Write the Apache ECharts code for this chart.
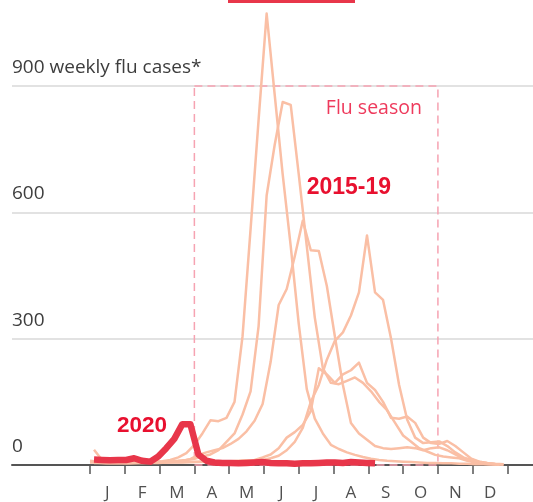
<!DOCTYPE html>
<html>
<head>
<meta charset="utf-8">
<script src="https://cdn.jsdelivr.net/npm/echarts@6/dist/echarts.min.js"></script>
<style>
  html, body { margin: 0; padding: 0; background: #fff; }
  #chart { width: 533px; height: 502px; }
</style>
</head>
<body>
<div id="chart"></div>
<script>
// month letters under the x axis
const months = ['J', 'F', 'M', 'A', 'M', 'J', 'J', 'A', 'S', 'O', 'N', 'D']

// weekly flu cases, week 1 onwards
const cases2020 = [13, 12, 11, 12, 12, 16, 10, 8, 20, 40, 62, 97, 97, 25, 10, 6, 5, 5, 4, 5, 6, 7, 5, 4, 4, 3, 4, 4, 5, 6, 6, 5, 7, 6, 5, 4]

const seasonA = [10, 8, 7, 6, 6, 6, 7, 7, 8, 9, 12, 18, 28, 48, 75, 106, 104, 112, 150, 306, 560, 820, 1072, 880, 690, 520, 335, 180, 110, 75, 48, 38, 30, 24, 19, 15, 12, 10, 9, 8, 7, 6, 5, 5, 4, 4, 3, 3, 2, 2, 1, 1]
const seasonB = [6, 6, 5, 5, 5, 5, 6, 6, 7, 8, 9, 10, 12, 15, 20, 25, 35, 55, 75, 120, 175, 330, 640, 760, 862, 855, 690, 520, 350, 230, 195, 192, 200, 208, 195, 175, 150, 130, 100, 70, 55, 40, 32, 24, 20, 18, 16, 10, 6, 3, 2, 1]
const seasonC = [6, 5, 5, 5, 5, 5, 6, 6, 7, 8, 9, 10, 14, 24, 30, 35, 40, 50, 62, 80, 105, 145, 245, 380, 418, 495, 580, 510, 508, 425, 305, 190, 100, 75, 60, 45, 40, 38, 40, 42, 40, 35, 40, 42, 35, 25, 15, 10, 6, 4, 2, 1]
const seasonD = [5, 5, 4, 4, 4, 5, 5, 6, 6, 6, 7, 7, 7, 8, 8, 8, 9, 9, 10, 11, 12, 18, 25, 40, 65, 78, 95, 128, 230, 215, 195, 215, 225, 243, 195, 178, 150, 112, 110, 115, 100, 65, 52, 50, 57, 45, 30, 15, 8, 4, 2, 1]
const seasonE = [36, 12, 8, 6, 5, 5, 5, 5, 5, 6, 6, 6, 7, 7, 8, 8, 8, 9, 9, 10, 10, 12, 16, 22, 35, 55, 88, 150, 190, 250, 295, 315, 355, 410, 545, 410, 392, 300, 190, 108, 65, 52, 54, 56, 45, 30, 18, 12, 8, 5, 3, 2]

const pastSeasons = [seasonA, seasonB, seasonC, seasonD, seasonE]
// week 1 does not start on the same day every year (fraction of a week)
const pastShift = [0, 0, 0.5, 0.5, 0.5]
const shift2020 = 0.5

const sans = '"Open Sans", "Noto Sans", sans-serif'
const bold = '"Liberation Sans", "Open Sans", sans-serif'
const salmon = '#fabfa5'
const red = '#e8364a'
const labelRed = '#e8102f'

// week index -> position in months
const toPoints = (vals, shift) => vals.map((v, i) => [(i + shift) * 12 / 52, v])

const chart = echarts.init(document.getElementById('chart'))

const textMark = (text, coord, font, size, weight, color) => ({
  silent: true,
  symbolSize: 0,
  label: {
    show: true,
    position: 'inside',
    formatter: text,
    color,
    fontFamily: font,
    fontWeight: weight,
    fontSize: size,
  },
  data: [{ coord }],
})

const pastSeries = pastSeasons.map((vals, k) => ({
  name: '2015-19',
  type: 'line',
  data: toPoints(vals, pastShift[k]),
  symbol: 'none',
  clip: false,
  z: 2,
  lineStyle: { color: salmon, width: 2.5, join: 'round' },
  markArea: k === 0 ? {
    silent: true,
    itemStyle: {
      color: 'rgba(0,0,0,0)',
      borderColor: '#f6a3b2',
      borderWidth: 1.5,
      borderType: [8, 5],
    },
    label: { show: false },
    data: [[{ xAxis: 3, yAxis: 900 }, { xAxis: 10, yAxis: 0 }]],
  } : undefined,
  markPoint: k === 0 ? textMark('2015-19', [7.44, 658], bold, 23, 'bold', labelRed)
    : k === 1 ? textMark('Flu season', [8.16, 847], sans, 19.5, 'normal', '#ee3a5c')
    : undefined,
}))

chart.setOption({
  animation: false,
  grid: { left: 12, right: 0, top: 86, bottom: 31 },
  xAxis: {
    type: 'value',
    min: -2.242,
    max: 12.733,
    splitLine: { show: false },
    axisLine: { lineStyle: { color: '#555', width: 2 } },
    axisTick: {
      show: true,
      customValues: [0, 1, 2, 3, 4, 5, 6, 7, 8, 9, 10, 11, 12],
      length: 9,
      lineStyle: { color: '#555', width: 1.5 },
    },
    axisLabel: {
      customValues: months.map((m, i) => i + 0.5),
      formatter: (v) => months[Math.round(v - 0.5)] || '',
      color: '#505050',
      fontFamily: sans,
      fontSize: 17,
      margin: 20,
    },
  },
  yAxis: {
    type: 'value',
    min: 0,
    max: 900,
    interval: 300,
    axisLine: { show: false },
    axisTick: { show: false },
    splitLine: { lineStyle: { color: '#e2e2e2', width: 2 } },
    axisLabel: {
      inside: true,
      margin: 0,
      align: 'left',
      verticalAlign: 'bottom',
      padding: [0, 0, 9, 0],
      color: '#3d3d3d',
      fontFamily: sans,
      fontSize: 19,
      formatter: (v) => (v === 900 ? '900 weekly flu cases*' : String(v)),
    },
  },
  graphic: [
    { type: 'rect', shape: { x: 228, y: 0, width: 127, height: 3 }, style: { fill: red } },
  ],
  series: [
    ...pastSeries,
    {
      name: '2020',
      type: 'line',
      data: toPoints(cases2020, shift2020),
      symbol: 'none',
      clip: false,
      z: 5,
      lineStyle: { color: red, width: 6.5, join: 'round' },
      markPoint: textMark('2020', [1.495, 93], bold, 22.5, 'bold', labelRed),
    },
  ],
})
</script>
</body>
</html>
